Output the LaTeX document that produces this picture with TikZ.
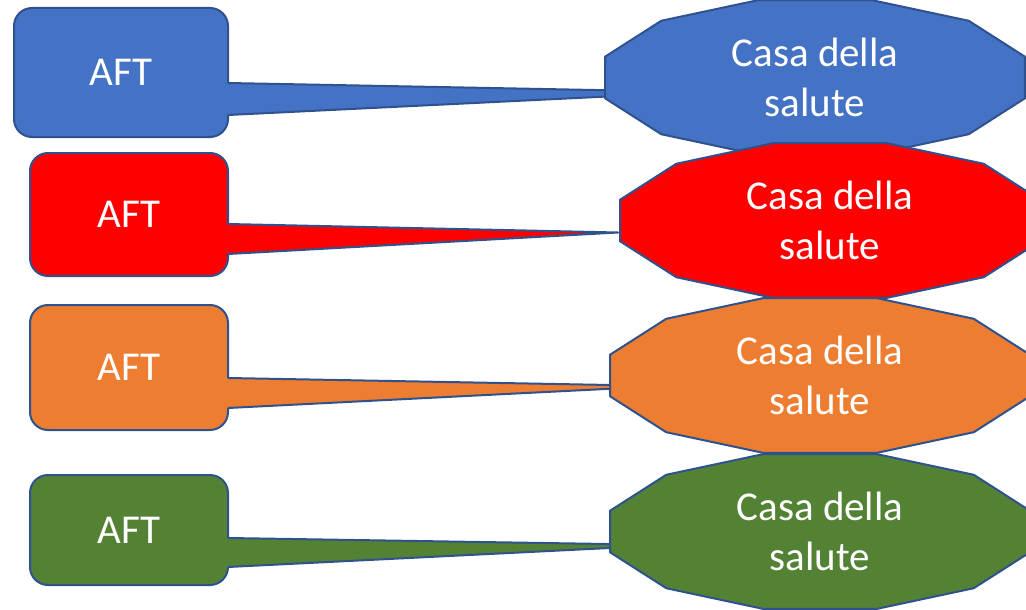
\documentclass[tikz,border=0pt]{standalone}
\usepackage{fontspec}
\setmainfont{Carlito}
\usetikzlibrary{calc}
\definecolor{aftblue}{HTML}{4472C4}
\definecolor{aftred}{HTML}{FF0000}
\definecolor{aftorange}{HTML}{ED7D31}
\definecolor{aftgreen}{HTML}{548235}
\definecolor{edgeblue}{HTML}{2F528F}

\begin{document}
\begin{tikzpicture}[x=1pt,y=-1pt,line width=2pt,line join=round,
  aft/.style={draw=edgeblue,rounded corners=18pt,outer sep=0pt,text=white,font=\fontsize{41}{50}\selectfont},
  casa/.style={text=white,align=center,font=\fontsize{41}{50}\selectfont}]
  %Canvas
  \clip (0,0) rectangle (1026,610);

  %AFT callouts
  \node[aft,fill=aftblue,minimum width=214,minimum height=129] (aft1) at (121,72.5) {AFT};
  \node[aft,fill=aftred,minimum width=198,minimum height=123] (aft2) at (129,214.5) {AFT};
  \node[aft,fill=aftorange,minimum width=198,minimum height=125] (aft3) at (129,367.5) {AFT};
  \node[aft,fill=aftgreen,minimum width=198,minimum height=110] (aft4) at (129,530) {AFT};

  %Tips of the tails
  \coordinate (tip1) at (700,92);
  \coordinate (tip2) at (618,232.5);
  \coordinate (tip3) at (665,386);
  \coordinate (tip4) at (670,545);

  %Tails
  \fill[aftblue] ($(aft1.east)+(-4,10.5)$) -- (tip1) -- ($(aft1.east)+(-4,42.5)$) -- cycle;
  \draw[edgeblue] ($(aft1.east)+(0,10.5)$) -- (tip1) -- ($(aft1.east)+(0,42.5)$);
  \fill[aftred] ($(aft2.east)+(-4,9.5)$) -- (tip2) -- ($(aft2.east)+(-4,39.5)$) -- cycle;
  \draw[edgeblue] ($(aft2.east)+(0,9.5)$) -- (tip2) -- ($(aft2.east)+(0,39.5)$);
  \fill[aftorange] ($(aft3.east)+(-4,10.5)$) -- (tip3) -- ($(aft3.east)+(-4,40.5)$) -- cycle;
  \draw[edgeblue] ($(aft3.east)+(0,10.5)$) -- (tip3) -- ($(aft3.east)+(0,40.5)$);
  \fill[aftgreen] ($(aft4.east)+(-4,8)$) -- (tip4) -- ($(aft4.east)+(-4,37)$) -- cycle;
  \draw[edgeblue] ($(aft4.east)+(0,8)$) -- (tip4) -- ($(aft4.east)+(0,37)$);

  %Casa della salute
  \coordinate (c1) at (815,77.5);
  \coordinate (c2) at (830,220.5);
  \coordinate (c3) at (820,375.5);
  \coordinate (c4) at (820,531.5);
  \foreach \c/\col in {c1/aftblue,c2/aftred,c3/aftorange,c4/aftgreen}
    \draw[edgeblue,fill=\col,shift={(\c)}] plot[samples at={15,45,...,345}] ({210*cos(\x)/cos(15)},{77.5*sin(\x)/cos(15)}) -- cycle;
  \node[casa] (casa1) at (c1) {Casa della\\salute};
  \node[casa] (casa2) at (c2) {Casa della\\salute};
  \node[casa] (casa3) at (c3) {Casa della\\salute};
  \node[casa] (casa4) at (c4) {Casa della\\salute};
\end{tikzpicture}
\end{document}
